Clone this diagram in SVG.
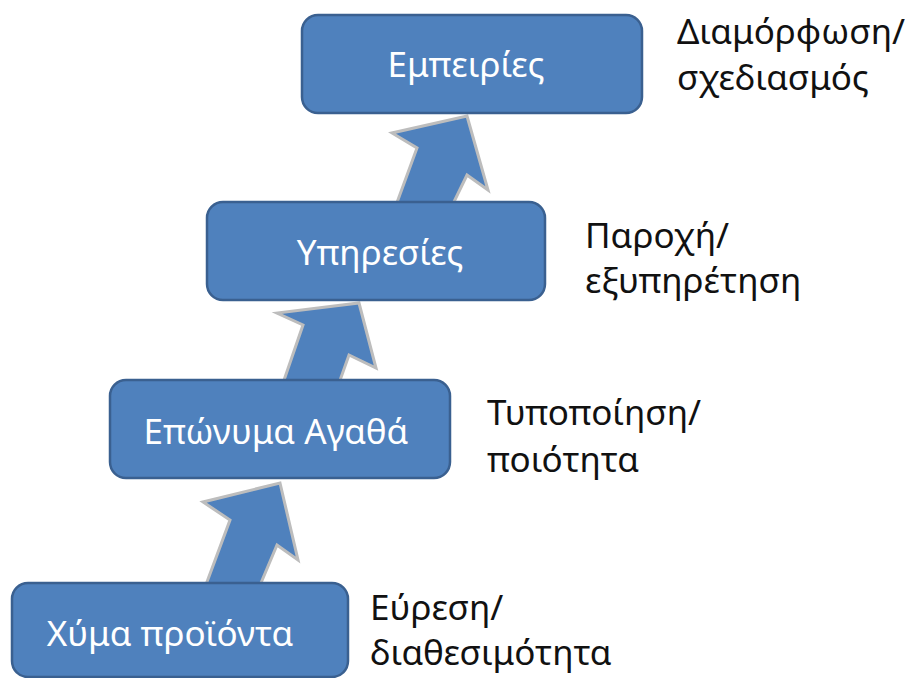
<svg xmlns="http://www.w3.org/2000/svg" width="905" height="678" viewBox="0 0 905 678">
<style>
.box{fill:#4F81BD;stroke:#3A6090;stroke-width:2.5}
.arr{fill:#4F81BD;stroke:#BDBDBD;stroke-width:3;stroke-linejoin:miter}
.lbl{font-family:"Noto Sans","Open Sans","DejaVu Sans",sans-serif;font-size:35px;fill:#FFFFFF;text-anchor:middle}
.side{font-family:"Noto Sans","Open Sans","DejaVu Sans",sans-serif;font-size:35px;fill:#111111}
</style>
<rect width="905" height="678" fill="#FFFFFF"/>
<g id="connectors">
<polygon class="arr" points="280,483 298,560 277,545 258,590 204,590 230,520 203,502"/>
<polygon class="arr" points="359,303 376,368 349,355 338,386 282,386 303,325 277,313"/>
<polygon class="arr" points="467,116 488,190 467,175 451,208 395,208 417,148 392,133"/>
</g>
<g id="node-xyma">
<rect class="box" x="12" y="583" width="336" height="94" rx="16"/>
<text class="lbl" x="170" y="646">Χύμα προϊόντα</text>
<text class="side" x="370" y="620">Εύρεση/</text>
<text class="side" x="370" y="665">διαθεσιμότητα</text>
</g>
<g id="node-eponyma">
<rect class="box" x="110" y="380" width="340" height="98" rx="16"/>
<text class="lbl" x="276" y="444">Επώνυμα Αγαθά</text>
<text class="side" x="487" y="425">Τυποποίηση/</text>
<text class="side" x="487" y="472">ποιότητα</text>
</g>
<g id="node-ypiresies">
<rect class="box" x="207" y="202" width="338" height="98" rx="16"/>
<text class="lbl" x="380" y="265">Υπηρεσίες</text>
<text class="side" x="585" y="248">Παροχή/</text>
<text class="side" x="585" y="293">εξυπηρέτηση</text>
</g>
<g id="node-empeiries">
<rect class="box" x="302" y="15" width="340" height="98" rx="16"/>
<text class="lbl" x="466" y="77">Εμπειρίες</text>
<text class="side" x="677" y="44">Διαμόρφωση/</text>
<text class="side" x="677" y="90">σχεδιασμός</text>
</g>
</svg>
